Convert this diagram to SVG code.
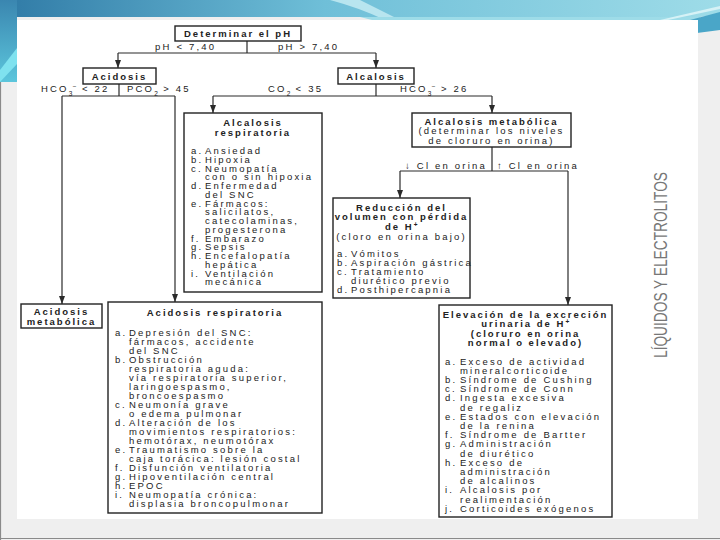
<svg xmlns="http://www.w3.org/2000/svg" width="720" height="540" viewBox="0 0 720 540">
<defs>
<linearGradient id="topg" x1="0" y1="0" x2="1" y2="0">
<stop offset="0" stop-color="#2f7aa6"/>
<stop offset="0.45" stop-color="#6fbfd8"/>
<stop offset="1" stop-color="#9edce8"/>
</linearGradient>
<linearGradient id="leftg" x1="0" y1="0" x2="0" y2="1">
<stop offset="0" stop-color="#3a86b0"/>
<stop offset="1" stop-color="#5cc6dc"/>
</linearGradient>
<marker id="ah" viewBox="0 0 8 6" refX="8" refY="3" markerWidth="8" markerHeight="6" markerUnits="userSpaceOnUse" orient="auto">
<path d="M0,0 L8,3 L0,6 z" fill="#2a2a2a"/>
</marker>
<style>
.t{font-family:"Liberation Sans",Arial,sans-serif;font-size:9.5px;letter-spacing:2.2px;fill:#222}
.b{font-weight:bold;letter-spacing:2px}
.c{text-anchor:middle}
.box{fill:#fff;stroke:#222;stroke-width:1.4}
.ln{fill:none;stroke:#2a2a2a;stroke-width:1.2}
.ar{marker-end:url(#ah)}
.s{font-size:6.5px;letter-spacing:0.5px}
</style>
</defs>

<!-- background / slide frame -->
<rect x="0" y="0" width="720" height="540" fill="#efefef"/>
<path d="M0,0 H720 V14 L700,17 H17 V82 L0,82 Z" fill="url(#topg)"/>
<path d="M0,0 H17 V82 H0 Z" fill="url(#leftg)"/>
<path d="M0,82 L0,70 L17,48 L17,64 Z" fill="#7fe2ef"/>
<path d="M330,0 L360,0 Q380,10 400,20 L385,20 Q360,8 330,0 Z" fill="#c9eef4" opacity="0.8"/>
<path d="M360,17 H700 L700,22 H380 Z" fill="#9edce8"/>
<path d="M690,20 L720,12 V30 L697,33 Z" fill="#4aa6c8"/>
<path d="M660,20 L720,6 L720,9 L668,20 Z" fill="#d6f2f6"/>
<rect x="17" y="20" width="681" height="499" fill="#ffffff"/>
<line x1="0.5" y1="82" x2="0.5" y2="540" stroke="#8a8a8a" stroke-width="1.2"/>
<line x1="0" y1="538.5" x2="720" y2="538.5" stroke="#8a8a8a" stroke-width="1.2"/>

<!-- connectors -->
<g id="connectors">
<path class="ln" d="M247,41 V53 M118,53 H376"/>
<path class="ln ar" d="M118,53 V68"/>
<path class="ln ar" d="M376,53 V68"/>
<path class="ln" d="M119,84 V96 M62,96 H175"/>
<path class="ln ar" d="M62,96 V304"/>
<path class="ln ar" d="M175,96 V302"/>
<path class="ln" d="M376,84 V96 M213,96 H492"/>
<path class="ln ar" d="M213,96 V113"/>
<path class="ln ar" d="M492,96 V113"/>
<path class="ln" d="M492,147 V171 M400,171 H568"/>
<path class="ln ar" d="M400,171 V198"/>
<path class="ln ar" d="M568,171 V305"/>
<text class="t" x="155" y="50">pH &lt; 7,40</text>
<text class="t" x="278" y="50">pH &gt; 7,40</text>
<text class="t" x="41" y="92">HCO<tspan class="s" baseline-shift="sub">3</tspan><tspan class="s" baseline-shift="super">−</tspan><tspan> &lt; 22</tspan></text>
<text class="t" x="127" y="92">PCO<tspan class="s" baseline-shift="sub">2</tspan><tspan> &gt; 45</tspan></text>
<text class="t" x="268" y="92">CO<tspan class="s" baseline-shift="sub">2</tspan><tspan> &lt; 35</tspan></text>
<text class="t" x="400" y="92">HCO<tspan class="s" baseline-shift="sub">3</tspan><tspan class="s" baseline-shift="super">−</tspan><tspan> &gt; 26</tspan></text>
<text class="t" x="487" y="168.5" text-anchor="end">↓ Cl en orina</text>
<text class="t" x="497" y="168.5">↑ Cl en orina</text>
</g>

<g id="ph">
<rect class="box" x="175" y="26" width="126" height="15"/>
<text class="t b c" x="238" y="37">Determinar el pH</text>
</g>

<g id="acidosis">
<rect class="box" x="83" y="68" width="73" height="16"/>
<text class="t b c" x="119.5" y="79.5">Acidosis</text>
</g>

<g id="alcalosis">
<rect class="box" x="338" y="68" width="76" height="16"/>
<text class="t b c" x="376" y="79.5">Alcalosis</text>
</g>

<g id="alc-resp">
<rect class="box" x="184" y="113" width="138" height="179"/>
<text class="t b c" x="253" y="126">Alcalosis</text>
<text class="t b c" x="253" y="136">respiratoria</text>
<text class="t" y="154"><tspan x="191">a.</tspan><tspan x="205">Ansiedad</tspan></text>
<text class="t" y="162.75"><tspan x="191">b.</tspan><tspan x="205">Hipoxia</tspan></text>
<text class="t" y="171.5"><tspan x="191">c.</tspan><tspan x="205">Neumopatía</tspan></text>
<text class="t" x="205" y="180.25">con o sin hipoxia</text>
<text class="t" y="189"><tspan x="191">d.</tspan><tspan x="205">Enfermedad</tspan></text>
<text class="t" x="205" y="197.75">del SNC</text>
<text class="t" y="206.5"><tspan x="191">e.</tspan><tspan x="205">Fármacos:</tspan></text>
<text class="t" x="205" y="215.25">salicilatos,</text>
<text class="t" x="205" y="224">catecolaminas,</text>
<text class="t" x="205" y="232.75">progesterona</text>
<text class="t" y="241.5"><tspan x="191">f.</tspan><tspan x="205">Embarazo</tspan></text>
<text class="t" y="250.25"><tspan x="191">g.</tspan><tspan x="205">Sepsis</tspan></text>
<text class="t" y="259"><tspan x="191">h.</tspan><tspan x="205">Encefalopatía</tspan></text>
<text class="t" x="205" y="267.75">hepática</text>
<text class="t" y="276.5"><tspan x="191">i.</tspan><tspan x="205">Ventilación</tspan></text>
<text class="t" x="205" y="285.25">mecánica</text>
</g>

<g id="alc-met">
<rect class="box" x="412" y="113" width="159" height="34"/>
<text class="t b c" x="491.5" y="125">Alcalosis metabólica</text>
<text class="t c" x="491.5" y="134.3">(determinar los niveles</text>
<text class="t c" x="491.5" y="143.5">de cloruro en orina)</text>
</g>

<g id="reduccion">
<rect class="box" x="333" y="198" width="137" height="100"/>
<text class="t b c" x="401.5" y="210.5">Reducción del</text>
<text class="t b c" x="401.5" y="220">volumen con pérdida</text>
<text class="t b c" x="401.5" y="229.5">de H<tspan class="s" baseline-shift="super">+</tspan></text>
<text class="t c" x="401.5" y="239.5">(cloro en orina bajo)</text>
<text class="t" y="256.5"><tspan x="337">a.</tspan><tspan x="351">Vómitos</tspan></text>
<text class="t" y="265.5"><tspan x="337">b.</tspan><tspan x="351">Aspiración gástrica</tspan></text>
<text class="t" y="274.5"><tspan x="337">c.</tspan><tspan x="351">Tratamiento</tspan></text>
<text class="t" x="351" y="283.5">diurético previo</text>
<text class="t" y="292.5"><tspan x="337">d.</tspan><tspan x="351">Posthipercapnia</tspan></text>
</g>

<g id="acid-met">
<rect class="box" x="21" y="304" width="81" height="24"/>
<text class="t b c" x="61.5" y="315">Acidosis</text>
<text class="t b c" x="61.5" y="325">metabólica</text>
</g>

<g id="acid-resp">
<rect class="box" x="108" y="302" width="214" height="211"/>
<text class="t b c" x="215" y="316">Acidosis respiratoria</text>
<text class="t" y="335.5"><tspan x="115">a.</tspan><tspan x="129">Depresión del SNC:</tspan></text>
<text class="t" x="129" y="344.5">fármacos, accidente</text>
<text class="t" x="129" y="353.6">del SNC</text>
<text class="t" y="362.6"><tspan x="115">b.</tspan><tspan x="129">Obstrucción</tspan></text>
<text class="t" x="129" y="371.7">respiratoria aguda:</text>
<text class="t" x="129" y="380.7">vía respiratoria superior,</text>
<text class="t" x="129" y="389.8">laringoespasmo,</text>
<text class="t" x="129" y="398.8">broncoespasmo</text>
<text class="t" y="407.9"><tspan x="115">c.</tspan><tspan x="129">Neumonía grave</tspan></text>
<text class="t" x="129" y="416.9">o edema pulmonar</text>
<text class="t" y="426"><tspan x="115">d.</tspan><tspan x="129">Alteración de los</tspan></text>
<text class="t" x="129" y="435">movimientos respiratorios:</text>
<text class="t" x="129" y="444.1">hemotórax, neumotórax</text>
<text class="t" y="453.1"><tspan x="115">e.</tspan><tspan x="129">Traumatismo sobre la</tspan></text>
<text class="t" x="129" y="462.2">caja torácica: lesión costal</text>
<text class="t" y="471.2"><tspan x="115">f.</tspan><tspan x="129">Disfunción ventilatoria</tspan></text>
<text class="t" y="480.3"><tspan x="115">g.</tspan><tspan x="129">Hipoventilación central</tspan></text>
<text class="t" y="489.3"><tspan x="115">h.</tspan><tspan x="129">EPOC</tspan></text>
<text class="t" y="498.4"><tspan x="115">i.</tspan><tspan x="129">Neumopatía crónica:</tspan></text>
<text class="t" x="129" y="507.4">displasia broncopulmonar</text>
</g>

<g id="elevacion">
<rect class="box" x="439" y="305" width="173" height="212"/>
<text class="t b c" x="525.5" y="317.5">Elevación de la excreción</text>
<text class="t b c" x="525.5" y="327">urinaria de H<tspan class="s" baseline-shift="super">+</tspan></text>
<text class="t b c" x="525.5" y="336.5">(cloruro en orina</text>
<text class="t b c" x="525.5" y="346">normal o elevado)</text>
<text class="t" y="364.5"><tspan x="445">a.</tspan><tspan x="460">Exceso de actividad</tspan></text>
<text class="t" x="460" y="373.7">mineralcorticoide</text>
<text class="t" y="382.9"><tspan x="445">b.</tspan><tspan x="460">Síndrome de Cushing</tspan></text>
<text class="t" y="392.1"><tspan x="445">c.</tspan><tspan x="460">Síndrome de Conn</tspan></text>
<text class="t" y="401.3"><tspan x="445">d.</tspan><tspan x="460">Ingesta excesiva</tspan></text>
<text class="t" x="460" y="410.5">de regaliz</text>
<text class="t" y="419.7"><tspan x="445">e.</tspan><tspan x="460">Estados con elevación</tspan></text>
<text class="t" x="460" y="428.9">de la renina</text>
<text class="t" y="438.1"><tspan x="445">f.</tspan><tspan x="460">Síndrome de Bartter</tspan></text>
<text class="t" y="447.3"><tspan x="445">g.</tspan><tspan x="460">Administración</tspan></text>
<text class="t" x="460" y="456.5">de diurético</text>
<text class="t" y="465.7"><tspan x="445">h.</tspan><tspan x="460">Exceso de</tspan></text>
<text class="t" x="460" y="474.9">administración</text>
<text class="t" x="460" y="484.1">de alcalinos</text>
<text class="t" y="493.3"><tspan x="445">i.</tspan><tspan x="460">Alcalosis por</tspan></text>
<text class="t" x="460" y="502.5">realimentación</text>
<text class="t" y="511.7"><tspan x="445">j.</tspan><tspan x="460">Corticoides exógenos</tspan></text>
</g>

<text transform="translate(667,265) rotate(-90)" text-anchor="middle" textLength="186" lengthAdjust="spacingAndGlyphs" font-family="'Liberation Sans',Arial,sans-serif" font-size="18" fill="#777777">LÍQUIDOS Y ELECTROLITOS</text>
</svg>
